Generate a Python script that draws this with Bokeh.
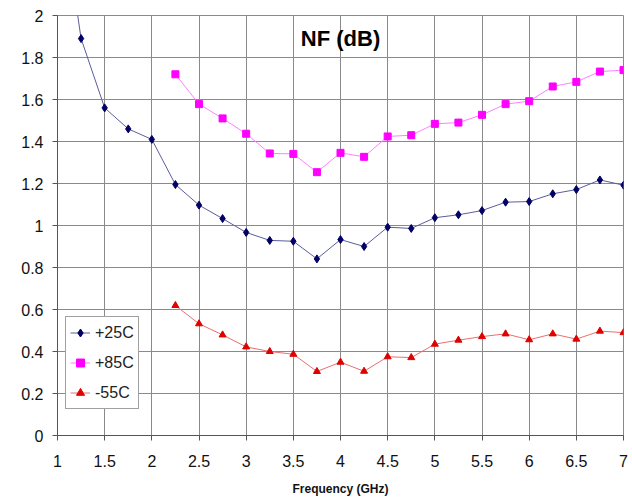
from bokeh.plotting import figure
from bokeh.models import Range1d, FixedTicker, Label, Legend
from bokeh.embed import file_html
from bokeh.resources import INLINE

freq_25 = [1.0, 1.25, 1.5, 1.75, 2.0, 2.25, 2.5, 2.75, 3.0, 3.25, 3.5, 3.75, 4.0, 4.25,
           4.5, 4.75, 5.0, 5.25, 5.5, 5.75, 6.0, 6.25, 6.5, 6.75, 7.0]
nf_25 = [2.66, 1.89, 1.56, 1.46, 1.41, 1.195, 1.097, 1.033, 0.967, 0.929, 0.925, 0.841, 0.933, 0.90,
         0.992, 0.986, 1.037, 1.051, 1.071, 1.111, 1.114, 1.151, 1.171, 1.217, 1.192]

freq_hot = [2.25, 2.5, 2.75, 3.0, 3.25, 3.5, 3.75, 4.0, 4.25, 4.5, 4.75, 5.0, 5.25, 5.5,
            5.75, 6.0, 6.25, 6.5, 6.75, 7.0]
nf_85 = [1.72, 1.578, 1.51, 1.437, 1.343, 1.341, 1.254, 1.346, 1.327, 1.424, 1.430, 1.484, 1.490, 1.527,
         1.578, 1.592, 1.662, 1.684, 1.733, 1.740]
nf_m55 = [0.619, 0.532, 0.479, 0.422, 0.400, 0.387, 0.305, 0.349, 0.306, 0.375, 0.371, 0.435, 0.454, 0.471,
          0.484, 0.456, 0.484, 0.459, 0.497, 0.490]

x_ticks = [1, 1.5, 2, 2.5, 3, 3.5, 4, 4.5, 5, 5.5, 6, 6.5, 7]
x_tick_labels = ["1", "1.5", "2", "2.5", "3", "3.5", "4", "4.5", "5", "5.5", "6", "6.5", "7"]
y_ticks = [0, 0.2, 0.4, 0.6, 0.8, 1, 1.2, 1.4, 1.6, 1.8, 2]
y_tick_labels = ["0", "0.2", "0.4", "0.6", "0.8", "1", "1.2", "1.4", "1.6", "1.8", "2"]

FONT = "Liberation Sans"

p = figure(width=630, height=498, output_backend="svg", toolbar_location=None,
           x_range=Range1d(1, 7), y_range=Range1d(0, 2),
           min_border_left=57, min_border_top=15, min_border_right=7, min_border_bottom=62)
p.background_fill_color = "white"
p.border_fill_color = "white"
p.outline_line_color = "#8a8a8a"

for ax, ticks, labels in ((p.xaxis[0], x_ticks, x_tick_labels), (p.yaxis[0], y_ticks, y_tick_labels)):
    ax.ticker = FixedTicker(ticks=ticks)
    ax.major_label_overrides = {t: l for t, l in zip(ticks, labels)}
    ax.major_label_text_font = FONT
    ax.major_label_text_font_size = "16px"
    ax.major_label_text_color = "#111111"
    ax.axis_line_color = "#555555"
    ax.major_tick_line_color = "#555555"
    ax.major_tick_out = 5
    ax.major_tick_in = 0
    ax.minor_tick_line_color = None

p.yaxis.major_label_standoff = 9
p.xaxis.major_label_standoff = 14
p.xaxis.axis_label = "Frequency (GHz)"
p.xaxis.axis_label_text_font = FONT
p.xaxis.axis_label_text_font_style = "bold"
p.xaxis.axis_label_text_font_size = "12px"
p.xaxis.axis_label_text_color = "#111111"
p.xaxis.axis_label_standoff = 12

p.grid.grid_line_color = "#8a8a8a"
p.grid.grid_line_width = 1
p.xgrid.ticker = FixedTicker(ticks=x_ticks)
p.ygrid.ticker = FixedTicker(ticks=y_ticks)

l1 = p.line(freq_25, nf_25, line_color="#5c5c9c", line_width=1)
m1 = p.scatter(freq_25, nf_25, marker="diamond", size=8, fill_color="#000066", line_color="#000066")
l2 = p.line(freq_hot, nf_85, line_color="#ff80ff", line_width=1)
m2 = p.scatter(freq_hot, nf_85, marker="square", size=7, fill_color="#ff00ff", line_color="#ff00ff")
l3 = p.line(freq_hot, nf_m55, line_color="#e87070", line_width=1)
m3 = p.scatter(freq_hot, nf_m55, marker="triangle", size=7, fill_color="#e00000", line_color="#e00000")

legend = Legend(items=[("+25C", [l1, m1]), ("+85C", [l2, m2]), ("-55C", [l3, m3])],
                location=(8, 26), orientation="vertical")
legend.label_text_font = FONT
legend.label_text_font_size = "16px"
legend.label_text_color = "#222222"
legend.border_line_color = "#444444"
legend.border_line_width = 1
legend.background_fill_color = "white"
legend.background_fill_alpha = 1
legend.padding = 4
legend.spacing = 7
legend.margin = 0
legend.glyph_height = 23
legend.glyph_width = 20
legend.label_height = 23
legend.label_standoff = 5
p.add_layout(legend, "center")

title = Label(x=4.0, y=1.89, text="NF (dB)", text_align="center", text_baseline="middle",
              text_font=FONT, text_font_style="bold", text_font_size="22px", text_color="#000000")
p.add_layout(title)

open("out.html", "w").write(file_html(p, INLINE))
